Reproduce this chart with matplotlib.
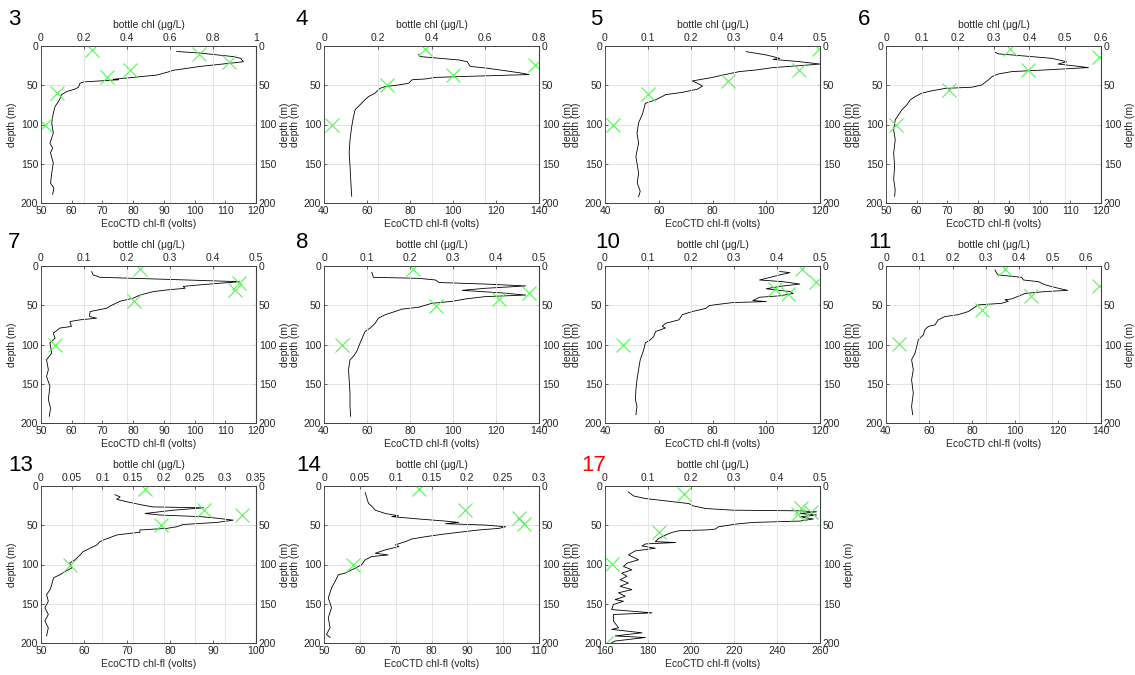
import numpy as np
import matplotlib as mpl
import matplotlib.pyplot as plt
from matplotlib.ticker import FuncFormatter

mpl.rc('font', family='Liberation Sans', size=7.5)
mpl.rc('axes', edgecolor='0.25', labelcolor='0.15')
mpl.rc('xtick', color='0.15')
mpl.rc('ytick', color='0.15')

#%% profile data (depth in m, EcoCTD fluorescence) and bottle samples
# station 3
s3_z = [7, 9, 13.5, 15.7, 20, 22, 26, 31, 33, 37, 40, 42.4, 43, 45, 45.8, 47.5, 52.5,
        55, 58, 62, 68.6, 77, 85.6, 98, 111, 124, 130, 136, 149, 162, 174.6, 181, 189]
s3_fl = [94.2, 101.8, 112.6, 115, 115.9, 111.5, 101.8, 93, 91.5, 87.7, 80, 73.5, 75.2,
         67, 63.8, 62.7, 62.2, 61, 58.4, 56.7, 56, 54.6, 54, 53.5, 54, 52.9, 53.8, 53.1,
         54, 53.5, 53.1, 54.2, 53.8]
s3_bz = [5, 10, 21, 30, 39, 60, 100]
s3_chl = [0.239, 0.736, 0.873, 0.414, 0.305, 0.076, 0.019]

# station 4
s4_z = [10.6, 13.5, 17.8, 20, 26, 28, 31, 34, 36.4, 38, 40, 42, 43, 47.5, 49.6, 51.7,
        54, 60, 64.4, 68.6, 77, 81, 90, 102.5, 119.5, 136, 153, 178.8, 191.5]
s4_fl = [84, 84.8, 102.7, 106.6, 108, 115, 123, 130.7, 135.3, 115, 91.8, 87, 81, 79.3,
         74.7, 68.5, 66, 63.8, 60.7, 59, 56, 54.5, 53.7, 52.9, 52.1, 51.7, 52.1, 52.6, 52.9]
s4_bz = [4, 24, 37, 50, 100]
s4_chl = [0.377, 0.784, 0.479, 0.236, 0.031]

# station 5
s5_z = [7.2, 11.4, 15.7, 17, 20, 23, 25, 27.5, 30.5, 32.6, 37, 40, 43, 44.5, 47.5, 51,
        55, 59, 62, 64.4, 68.6, 73, 81, 87.7, 98, 111, 123.7, 140.7, 162, 174.6, 185, 192]
s5_fl = [92.5, 100, 105, 102.5, 112.5, 120, 112.5, 102.5, 96.3, 90, 83.8, 80, 75, 72.5,
         74.4, 76.3, 74.4, 68.8, 62.5, 61.3, 58.8, 55, 54.4, 53.8, 52.5, 51.9, 52.5, 51.5,
         52.5, 52, 53.1, 52.5]
s5_bz = [4, 31, 45, 61, 100]
s5_chl = [0.498, 0.452, 0.285, 0.1, 0.018]

# station 6
s6_z = [8, 10, 11.4, 15.7, 20, 23, 25.4, 27.5, 30.5, 32.6, 35.6, 39, 43, 49.6, 52.5, 54,
        57, 60, 64.4, 68.6, 75, 81, 87.7, 94, 106.8, 119.5, 136.4, 153.4, 170, 183, 191.5]
s6_fl = [85.5, 86.6, 91, 104, 108.8, 106, 111.5, 115.9, 101.8, 91, 86.6, 84.5, 83.4,
         81.2, 78, 69.3, 65, 61.7, 59.5, 57.9, 56.8, 55.2, 54.1, 53, 52.5, 53, 52.5, 52.8,
         52.5, 53, 52.8]
s6_bz = [4, 14, 31, 56, 100]
s6_chl = [0.346, 0.595, 0.397, 0.175, 0.028]

# station 7
s7_z = [7.2, 11.4, 14.4, 17, 20, 24, 26, 28.4, 30.5, 32.6, 37, 41, 45, 51, 53.8, 58,
        64.4, 66.5, 68.6, 70.8, 77, 79, 85.6, 92, 98, 111, 119.5, 132, 140.7, 153, 170,
        181, 191.5]
s7_fl = [66.5, 67, 69.2, 91, 114.6, 101.8, 96.3, 96.9, 91, 86.6, 82.2, 80, 75.7, 72.5,
         71.4, 66, 65.8, 68.1, 62.7, 59.4, 59.9, 56.2, 54, 54.6, 52.9, 53.5, 51.8, 52.4,
         51.8, 52.9, 52.4, 53.1, 52.7]
s7_bz = [4, 22, 31, 45, 100]
s7_chl = [0.23, 0.461, 0.45, 0.216, 0.033]

# station 8
s8_z = [8, 14.4, 15.7, 17.8, 21, 23, 25.4, 28.4, 31, 34, 37, 39, 42, 45, 47.5, 52.5, 55,
        58, 62, 66.5, 73, 79, 83.5, 87.7, 98, 109, 115, 119.5, 132, 145, 162, 178.8, 191.5]
s8_fl = [62.2, 63, 84, 91.8, 93.5, 115, 133.8, 115, 104.2, 121.3, 133.8, 115, 105.8,
         99.6, 90.2, 84, 76.2, 73, 68.5, 65.3, 63.8, 61.5, 59.1, 58.4, 56.8, 55.2, 53.7,
         52.1, 51.4, 51.7, 52.1, 52.1, 52.4]
s8_bz = [4, 34, 42, 51, 100]
s8_chl = [0.208, 0.477, 0.407, 0.261, 0.043]

# station 10
s10_z = [7, 8.5, 11.4, 15.7, 17.8, 20, 23, 26, 29, 32.6, 35, 38, 39.8, 44, 45.3, 46.6,
         48.7, 50.4, 54, 58, 62, 68.6, 73, 77, 79, 83.5, 90, 94, 98, 106.8, 119.5, 132,
         145, 157.6, 170, 178.8, 189.4]
s10_fl = [105, 108.8, 105, 100, 97.5, 106.3, 112.5, 105, 100, 108.8, 110, 105, 97.5, 95,
          100, 87.5, 82.5, 78.8, 77.5, 72.5, 68.8, 67.5, 62.5, 61.3, 62.5, 58.8, 58.1,
          56.9, 55, 54.4, 53.1, 52.5, 51.9, 51.5, 51.3, 51.9, 51.5]
s10_bz = [4, 20, 29, 36, 100]
s10_chl = [0.459, 0.491, 0.396, 0.426, 0.041]

# station 11
s11_z = [5, 9.3, 11.4, 14.4, 17.8, 20, 24, 28.4, 31, 32.6, 35, 42, 43, 45, 47.5, 49.6,
         58, 62, 64.4, 68.6, 75, 77, 81, 87.7, 94, 102.5, 111, 119.5, 132, 145, 162,
         178.8, 189.4]
s11_fl = [90.7, 91.5, 92.2, 103.1, 103.9, 110.9, 114, 120.2, 124.5, 114, 104.7, 98.4,
          95.3, 96.9, 93.8, 82.9, 78.3, 73.6, 67.4, 64.3, 62.8, 59.7, 58.1, 57.4, 55,
          54.3, 53.5, 51.9, 52.7, 51.9, 52.7, 51.9, 52.4]
s11_bz = [4, 25, 38, 56, 99]
s11_chl = [0.358, 0.64, 0.436, 0.287, 0.04]

# station 13
s13_z = [11, 14, 17, 20, 23.6, 26.6, 27.8, 30.8, 35, 37, 39, 41, 43.5, 46.4, 47.7, 49,
         52, 54, 56, 59, 60.3, 62.4, 65.8, 68.8, 70.9, 75, 79.3, 83.5, 87.8, 94, 98,
         104.6, 108.9, 113, 117, 125.7, 132, 138.4, 146.8, 155, 163.7, 172, 180.6, 191]
s13_fl = [67.2, 68.4, 67.6, 69.9, 73, 75.9, 87.8, 80.8, 74.2, 77.7, 87, 90.9, 94.7,
          90.9, 87, 83.1, 81.5, 79.2, 73, 73, 70.7, 67.6, 66, 64.5, 63.7, 63, 61.4, 59.8,
          59.1, 57.9, 56.7, 57.1, 55.6, 54.4, 52.9, 52.5, 52.1, 51.3, 51.7, 50.9, 51.7,
          50.9, 51.7, 51.3]
s13_bz = [4, 30, 37, 50, 100]
s13_chl = [0.169, 0.265, 0.328, 0.196, 0.047]

# station 14
s14_z = [8.4, 16, 22, 26.6, 30.8, 35, 38, 39, 42, 44.7, 46.4, 48, 49.8, 51.9, 54, 56, 59,
         61.6, 64.6, 67.5, 70.9, 75, 77.2, 81.4, 85.7, 87.8, 89.9, 94, 100.4, 104.6, 111,
         113, 121.5, 130, 142.6, 155, 168, 180.6, 189, 193]
s14_fl = [61.5, 62, 62.4, 63.5, 64.3, 67.1, 70.8, 68.9, 76.4, 83.9, 87.6, 83.9, 95.1,
          100.7, 98.8, 93.2, 87.6, 82.9, 78.3, 74.5, 72.7, 69.9, 70.9, 67.1, 64.3, 67.9,
          63.3, 61.5, 60.5, 58.7, 55.9, 54, 53.1, 52.1, 51.2, 52.1, 51.2, 51.7, 50.7, 51.7]
s14_bz = [4, 31, 41, 49, 100]
s14_chl = [0.133, 0.197, 0.272, 0.279, 0.041]

# station 17
s17_z = [7.6, 12.7, 16, 19.4, 22.4, 25.3, 28.7, 30.8, 31.6, 32.9, 35, 37, 39.2, 42, 44.7,
         46.4, 48.5, 51.9, 54.9, 56, 57, 59, 62.4, 66.7, 70.9, 72, 73.8, 76.4, 79.3, 82.7,
         87.8, 94, 98.3, 102.5, 106.8, 111, 115, 119.4, 123.6, 127.8, 132, 136, 140.5,
         144.7, 146.8, 151, 157.4, 161.6, 163.7, 172, 180.6, 182.7, 187, 191, 193,
         197.5, 199.6]
s17_fl = [170.9, 173.3, 178.8, 189.7, 199, 201, 206.9, 219.4, 250.6, 258.4, 250.6, 258.4,
          250.6, 256.9, 250.6, 228.8, 221, 212.8, 211.3, 206.9, 194.4, 191.3, 188.3, 185,
          183.4, 192.8, 178.8, 177.2, 183.4, 174, 170.9, 175.6, 170.2, 168.6, 172.5, 167.8,
          170.2, 167, 170.9, 167, 172.5, 166.3, 169.4, 164.7, 168.6, 163.9, 163.1, 181.9,
          163.9, 163.9, 166.3, 163.1, 177.2, 164.7, 178.8, 164.7, 163.1]
s17_bz = [10, 28, 33, 36, 59, 99, 200]
s17_chl = [0.184, 0.455, 0.478, 0.448, 0.125, 0.016, 0.002]

station_names = ['3', '4', '5', '6', '7', '8', '10', '11', '13', '14', '17']

#%% per-panel settings: data, bottom-axis ticks, top-axis ticks, top limit
panels = [
    (s3_z, s3_fl, s3_bz, s3_chl, np.arange(50, 121, 10), np.arange(0, 1.01, 0.2), 1.0),
    (s4_z, s4_fl, s4_bz, s4_chl, np.arange(40, 141, 20), np.arange(0, 0.81, 0.2), 0.8),
    (s5_z, s5_fl, s5_bz, s5_chl, np.arange(40, 121, 20), np.arange(0, 0.51, 0.1), 0.5),
    (s6_z, s6_fl, s6_bz, s6_chl, np.arange(50, 121, 10), np.arange(0, 0.61, 0.1), 0.6),
    (s7_z, s7_fl, s7_bz, s7_chl, np.arange(50, 121, 10), np.arange(0, 0.51, 0.1), 0.5),
    (s8_z, s8_fl, s8_bz, s8_chl, np.arange(40, 141, 20), np.arange(0, 0.51, 0.1), 0.5),
    (s10_z, s10_fl, s10_bz, s10_chl, np.arange(40, 121, 20), np.arange(0, 0.51, 0.1), 0.5),
    (s11_z, s11_fl, s11_bz, s11_chl, np.arange(40, 141, 20), np.arange(0, 0.61, 0.1), 0.646),
    (s13_z, s13_fl, s13_bz, s13_chl, np.arange(50, 101, 10), np.arange(0, 0.351, 0.05), 0.35),
    (s14_z, s14_fl, s14_bz, s14_chl, np.arange(50, 111, 10), np.arange(0, 0.301, 0.05), 0.3),
    (s17_z, s17_fl, s17_bz, s17_chl, np.arange(160, 261, 20), np.arange(0, 0.51, 0.1), 0.5),
]

# layout in pixels
W, H = 1135, 675
col_x = [41, 324, 605, 886]
row_top = [46, 266, 486]
ax_w, ax_h = 215, 157
# panel number label left edge (px)
lab_x = [8, 296, 590, 858, 8, 296, 595, 868, 8, 296, 581]
lab_base = [25, 248, 471]

fmt = FuncFormatter(lambda v, p: '%g' % round(v, 3))
green = (0.35, 0.95, 0.35)

fig = plt.figure(figsize=(W / 100, H / 100), dpi=100)

for k, (z, fl, bz, chl, xt, tt, tlim) in enumerate(panels):
    r, c = divmod(k, 4)
    l = col_x[c] / W
    b = 1 - (row_top[r] + ax_h) / H
    ax = fig.add_axes([l, b, ax_w / W, ax_h / H])
    ax.plot(fl, z, color='k', lw=0.6)
    ax.set_xlim(xt[0], xt[-1])
    ax.set_ylim(200, 0)
    ax.set_xticks(xt)
    ax.set_yticks([0, 50, 100, 150, 200])
    ax.xaxis.set_major_formatter(fmt)
    ax.set_xlabel('EcoCTD chl-fl (volts)', labelpad=2)
    ax.set_ylabel('depth (m)', labelpad=3)
    ax.tick_params(direction='in', length=2.5, width=0.5, pad=2)
    ax.grid(True, axis='y', color='0.88', lw=0.6)
    ax.set_axisbelow(True)

    axt = ax.twiny()
    axt.plot(chl, bz, 'x', color=green, ms=10, mew=0.8)
    axt.set_xlim(0, tlim)
    axt.set_xticks(tt)
    axt.xaxis.set_major_formatter(fmt)
    axt.set_xlabel('bottle chl (μg/L)', labelpad=4)
    axt.tick_params(direction='in', length=2.5, width=0.5, pad=2)
    axt.grid(True, axis='x', color='0.88', lw=0.6)

    sec = ax.secondary_yaxis('right')
    sec.set_yticks([0, 50, 100, 150, 200])
    sec.set_ylabel('depth (m)', labelpad=3)
    sec.tick_params(direction='in', length=2.5, width=0.5, pad=2)

    for a in (ax, axt):
        for s in a.spines.values():
            s.set_linewidth(0.6)

    fig.text(lab_x[k] / W, 1 - lab_base[r] / H, station_names[k], fontsize=16,
             color='red' if station_names[k] == '17' else 'k', ha='left', va='baseline')

fig.savefig('out.png', dpi=100)
